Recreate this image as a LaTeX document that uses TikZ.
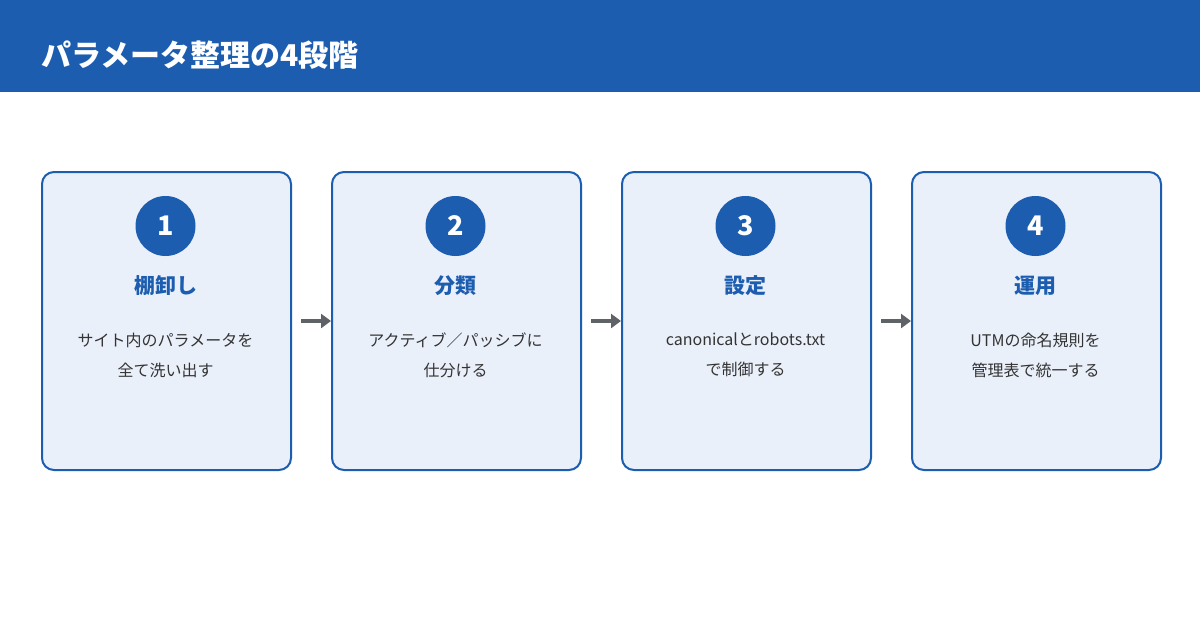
\documentclass[tikz,border=0pt]{standalone}
\usepackage{fontspec}
\setmainfont{Noto Sans CJK JP}
\usetikzlibrary{arrows.meta}
\definecolor{hdr}{HTML}{1C5DB0}
\definecolor{boxfill}{HTML}{EAF0FA}
\definecolor{txt}{HTML}{333333}
\definecolor{arr}{HTML}{5F6368}
\begin{document}
\begin{tikzpicture}[x=1pt,y=-1pt,
  box/.style={draw=hdr,line width=2pt,fill=boxfill,rounded corners=12pt,minimum width=249pt,minimum height=298pt,anchor=north west,inner sep=0pt},
  num/.style={circle,fill=hdr,minimum size=60pt,inner sep=0pt,text=white,font=\fontsize{27}{27}\selectfont\bfseries},
  head/.style={text=hdr,font=\fontsize{21}{21}\selectfont\bfseries},
  body/.style={text=txt,font=\fontsize{16}{30}\selectfont,align=center},
  conn/.style={draw=arr,line width=3.5pt,-{Triangle[length=10pt,width=14pt]}}]
\useasboundingbox (0,0) rectangle (1200,630);
\fill[white] (0,0) rectangle (1200,630);
\fill[hdr] (0,0) rectangle (1200,92);
\node[anchor=west,text=white,font=\fontsize{30}{30}\selectfont\bfseries] (title) at (38,55) {パラメータ整理の4段階};
\foreach \i/\x/\h/\t in {1/41/棚卸し/{サイト内のパラメータを\\全て洗い出す},2/331/分類/{アクティブ／パッシブに\\仕分ける},3/621/設定/{canonicalとrobots.txt\\で制御する},4/911/運用/{UTMの命名規則を\\管理表で統一する}}{
  \node[box] (b\i) at (\x,171) {};
  \node[num] (n\i) at (\x+124.5,226) {\i};
  \node[head] (h\i) at (\x+124.5,286) {\h};
  \node[body] (t\i) at (\x+124.5,355) {\t};
}
\foreach \a/\b in {1/2,2/3,3/4}{
  \draw[conn] ([xshift=9pt]b\a.east) -- ([xshift=0pt]b\b.west);
}
\end{tikzpicture}
\end{document}
